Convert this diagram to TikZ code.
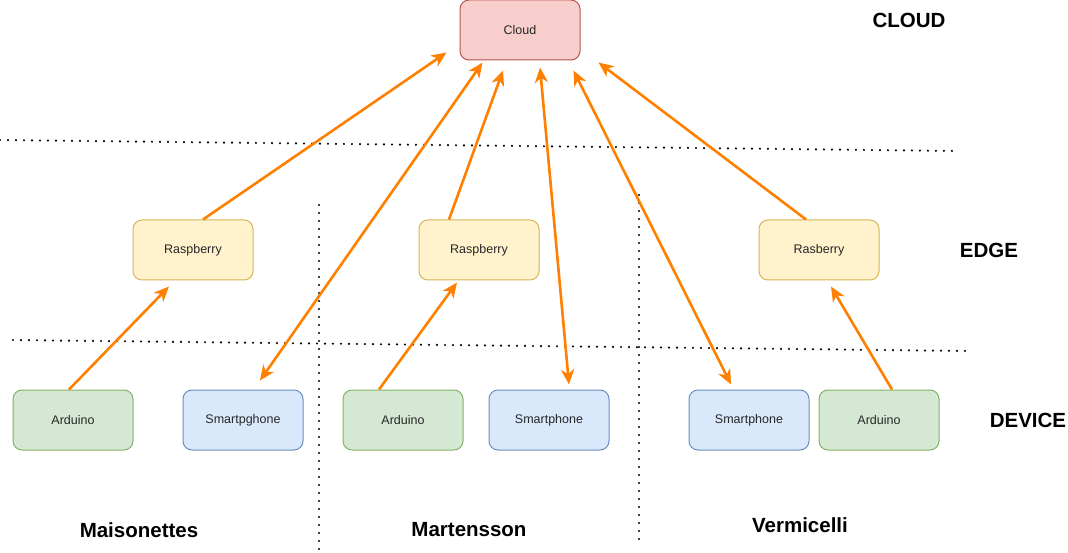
\documentclass[tikz,border=0pt]{standalone}
\usepackage{fontspec}
\setmainfont{Liberation Sans}
\usetikzlibrary{calc,arrows.meta}

\definecolor{orng}{HTML}{FF8000}
\definecolor{cloudfill}{HTML}{F8CECC}
\definecolor{clouddraw}{HTML}{B85450}
\definecolor{edgefill}{HTML}{FFF2CC}
\definecolor{edgedraw}{HTML}{D6B656}
\definecolor{ardfill}{HTML}{D5E8D4}
\definecolor{arddraw}{HTML}{82B366}
\definecolor{phonefill}{HTML}{DAE8FC}
\definecolor{phonedraw}{HTML}{6C8EBF}

\begin{document}
\begin{tikzpicture}[x=1pt,y=-1pt,
     box/.style={draw,rounded corners=9pt,line width=1pt,minimum width=120pt,minimum height=60pt,text=black!85,font=\fontsize{12.5}{14}\selectfont},
     cloudbox/.style={box,fill=cloudfill,draw=clouddraw},
     edgebox/.style={box,fill=edgefill,draw=edgedraw},
     ardbox/.style={box,fill=ardfill,draw=arddraw},
     phonebox/.style={box,fill=phonefill,draw=phonedraw},
     link/.style={orng,line width=2.6pt,-{Stealth[length=15pt,width=13pt,inset=4.5pt]}},
     both/.style={link,{Stealth[length=15pt,width=13pt,inset=4.5pt]}-{Stealth[length=15pt,width=13pt,inset=4.5pt]}},
     sep/.style={line width=2.4pt,dash pattern=on 0pt off 8pt,line cap=round},
     layer/.style={font=\fontsize{20.5}{24}\selectfont\bfseries}]
     \useasboundingbox (0,0) rectangle (1068,553);

     % boxes
     \node[cloudbox] (cloud) at (520,30) {Cloud};
     \node[edgebox] (r1) at (193,250) {Raspberry};
     \node[edgebox] (r2) at (479,250) {Raspberry};
     \node[edgebox] (r3) at (819,250) {Rasberry};
     \node[ardbox] (a1) at (73,420) {Arduino};
     \node[phonebox] (s1) at (243,420) {Smartpghone};
     \node[ardbox] (a2) at (403,420) {Arduino};
     \node[phonebox] (s2) at (549,420) {Smartphone};
     \node[phonebox] (s3) at (749,420) {Smartphone};
     \node[ardbox] (a3) at (879,420) {Arduino};

     % layers and sites
     \node[layer] (lcloud) at (909,20) {CLOUD};
     \node[layer] (ledge) at (989,250) {EDGE};
     \node[layer] (ldev) at (1028,420) {DEVICE};
     \node[layer] (m1) at (139,530) {Maisonettes};
     \node[layer] (m2) at (469,530) {Martensson};
     \node[layer] (m3) at (800,525) {Vermicelli};

     % separators
     \draw[sep] (0,140) -- (957,151);
     \draw[sep] (13,340) -- (968,351);
     \draw[sep] (319,205) -- (319,553);
     \draw[sep] (639,195) -- (639,540);

     % edge to cloud
     \draw[link] ($(r1.north)+(10,0)$) -- ($(cloud.south west)+(-13,-8)$);
     \draw[link] ($(r2.north)+(-30,0)$) -- ($(cloud.south)+(-17,10)$);
     \draw[link] ($(r3.north)+(-13,0)$) -- ($(cloud.south east)+(18,2)$);
     % phones to cloud
     \draw[both] ($(cloud.south west)+(23,2)$) -- ($(s1.north)+(17,-9)$);
     \draw[both] ($(cloud.south)+(20,7)$) -- ($(s2.north)+(20,-5)$);
     \draw[both] ($(cloud.south east)+(-7,10)$) -- ($(s3.north)+(-18,-5)$);
     % devices to edge
     \draw[link] ($(a1.north)+(-4,0)$) -- ($(r1.south)+(-24,6)$);
     \draw[link] ($(a2.north)+(-24,0)$) -- ($(r2.south)+(-22,2)$);
     \draw[link] ($(a3.north)+(13,0)$) -- ($(r3.south)+(12,6)$);

\end{tikzpicture}
\end{document}
